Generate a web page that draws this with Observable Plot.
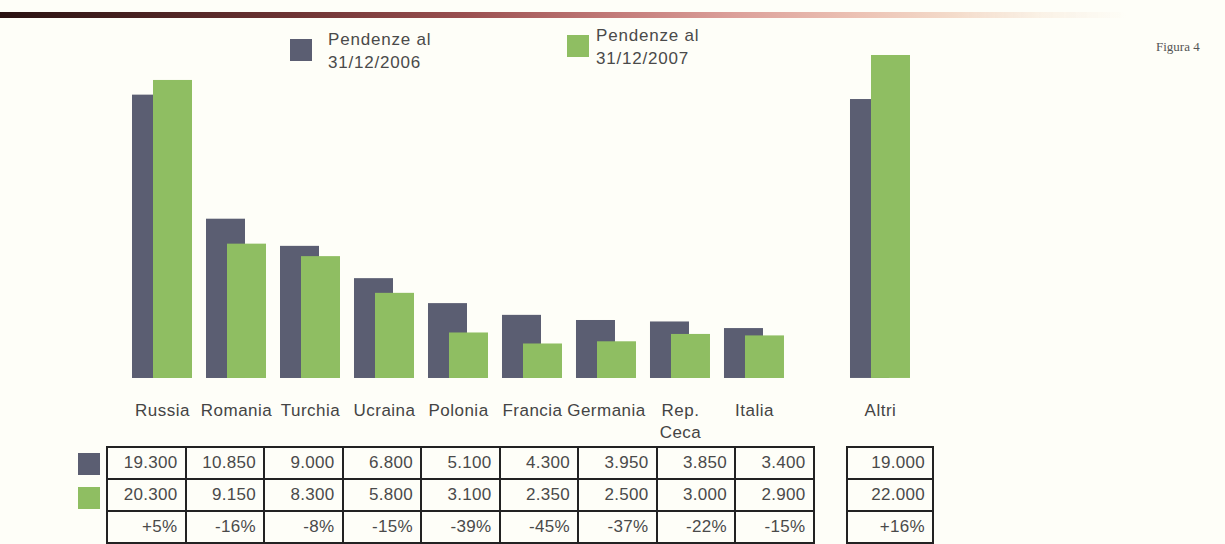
<!DOCTYPE html>
<html>
<head>
<meta charset="utf-8">
<script src="https://cdn.jsdelivr.net/npm/d3@7"></script>
<script src="https://cdn.jsdelivr.net/npm/@observablehq/plot@0.6"></script>
<style>
  html, body { margin: 0; padding: 0; background: #fefef8; }
  #page { position: relative; width: 1225px; height: 544px; overflow: hidden; background: #fefef8;
          font-family: "Liberation Sans", Arial, sans-serif; color: #444; }
  .abs { position: absolute; }
  #rule { left: 0; top: 12px; width: 1225px; height: 6px; filter: blur(0.5px);
          background: linear-gradient(to right, #2a1212 0%, #45201f 10%, #6e3434 24%, #9a5050 38%, #c27a78 50%, #dca09a 60%, #ecc2b4 70%, #f4dccb 78%, rgba(248,236,222,0.7) 85%, rgba(254,254,248,0) 92%); }
  .sw { width: 22px; height: 22px; }
  .legtxt { font-size: 17px; line-height: 23px; letter-spacing: 0.8px; color: #4a4a4a; white-space: nowrap; }
  #fig { left: 1156px; top: 39px; font-family: "Liberation Serif", "Times New Roman", serif; font-size: 13px; color: #555; }
  table.t { border-collapse: collapse; table-layout: fixed; }
  table.t td { border: 2px solid #222; height: 28px; padding: 0 7px 0 0; text-align: right;
               font-size: 17px; letter-spacing: 0.3px; color: #4a4a4a; box-sizing: border-box; }
</style>
</head>
<body>
<div id="page">
  <div id="rule" class="abs"></div>
  <div id="fig" class="abs">Figura 4</div>
  <div id="legend"></div>
  <div id="main" class="abs" style="left:0;top:0;"></div>
  <div id="other" class="abs" style="left:800px;top:0;"></div>
  <div id="tables"></div>
</div>
<script>
// ---- data ----
const countries = ["Russia", "Romania", "Turchia", "Ucraina", "Polonia", "Francia", "Germania", "Rep. Ceca", "Italia"];
const pend2006 = [19300, 10850, 9000, 6800, 5100, 4300, 3950, 3850, 3400];
const pend2007 = [20300, 9150, 8300, 5800, 3100, 2350, 2500, 3000, 2900];
const changes = ["+5%", "-16%", "-8%", "-15%", "-39%", "-45%", "-37%", "-22%", "-15%"];
const otherLabel = ["Altri"];
const other2006 = [19000];
const other2007 = [22000];
const otherChange = ["+16%"];
const seriesNames = ["Pendenze al\n31/12/2006", "Pendenze al\n31/12/2007"];
const colors = ["#5b5e72", "#8fbe62"];
const yMax = 22000;

const fmt = v => d3.format(",")(v).replace(/,/g, ".");

function makeChart(labels, a, b, opts) {
  const data = labels.map((c, i) => ({country: c, v2006: a[i], v2007: b[i]}));
  return Plot.plot({
    width: opts.width,
    height: 450,
    marginLeft: opts.marginLeft,
    marginRight: 0,
    marginTop: 55,
    marginBottom: 72,
    style: {background: "transparent", fontFamily: "'Liberation Sans', Arial, sans-serif", fontSize: "17px", letterSpacing: "0.5px", color: "#444"},
    x: {domain: labels, padding: 0, axis: null, label: null},
    y: {domain: [0, yMax], axis: null},
    marks: [
      Plot.barY(data, {x: "country", y: "v2006", fill: colors[0], insetLeft: 7, insetRight: 28}),
      Plot.barY(data, {x: "country", y: "v2007", fill: colors[1], insetLeft: 28, insetRight: 7}),
      Plot.axisX({tickSize: 0, tickPadding: 22, fontSize: 17, lineHeight: 1.3, fill: "#444", label: null,
                  tickFormat: d => d.replace(". ", ".\n")})
    ]
  });
}

const step = 74.9;
document.getElementById("main").appendChild(
  makeChart(countries, pend2006, pend2007, {width: 121.3 + step * countries.length, marginLeft: 121.3}));
document.getElementById("other").appendChild(
  makeChart(otherLabel, other2006, other2007, {width: 42.3 + step, marginLeft: 42.3}));

// ---- legend ----
const legend = document.getElementById("legend");
const legPos = [{sx: 290, sy: 39, tx: 328, ty: 28}, {sx: 567, sy: 35, tx: 596, ty: 24}];
seriesNames.forEach((name, i) => {
  const p = legPos[i];
  const sw = document.createElement("div");
  sw.className = "abs sw";
  sw.style.cssText = `left:${p.sx}px;top:${p.sy}px;background:${colors[i]};`;
  legend.appendChild(sw);
  const t = document.createElement("div");
  t.className = "abs legtxt";
  t.style.cssText = `left:${p.tx}px;top:${p.ty}px;`;
  t.innerHTML = name.split("\n").join("<br>");
  legend.appendChild(t);
});

// ---- tables ----
const tables = document.getElementById("tables");
function makeTable(rows, left, colW) {
  const tbl = document.createElement("table");
  tbl.className = "abs t";
  tbl.style.left = left + "px";
  tbl.style.top = "446px";
  tbl.style.width = (colW * rows[0].length) + "px";
  rows.forEach(r => {
    const tr = document.createElement("tr");
    r.forEach(v => {
      const td = document.createElement("td");
      td.style.width = colW + "px";
      td.style.height = "32px";
      td.textContent = v;
      tr.appendChild(td);
    });
    tbl.appendChild(tr);
  });
  tables.appendChild(tbl);
}
makeTable([pend2006.map(fmt), pend2007.map(fmt), changes], 106, 78.5);
makeTable([other2006.map(fmt), other2007.map(fmt), otherChange], 846, 86);

// table row swatches
colors.forEach((c, i) => {
  const sw = document.createElement("div");
  sw.className = "abs sw";
  sw.style.cssText = `left:78px;top:${453 + i * 34}px;background:${c};`;
  tables.appendChild(sw);
});
</script>
</body>
</html>
